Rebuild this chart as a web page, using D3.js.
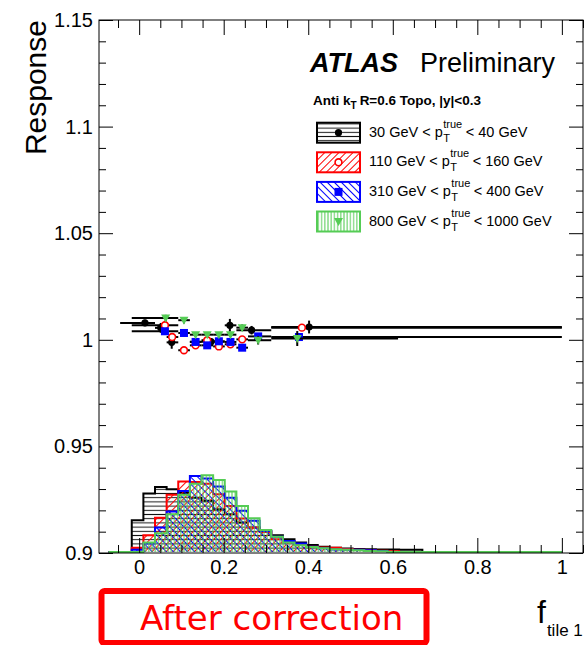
<!DOCTYPE html>
<html>
<head>
<meta charset="utf-8">
<script src="https://cdn.jsdelivr.net/npm/d3@7"></script>
<style>
  body { margin: 0; background: #fff; }
  svg { display: block; font-family: "Liberation Sans", Arial, Helvetica, sans-serif; }
</style>
</head>
<body>
<svg id="chart" width="586" height="645"></svg>
<script>
// ---- histogram of f_tile1 per pT bin (drawn above the 0.9 floor, response-axis units)
const binEdges = [-0.0725,-0.045,-0.0175,0.01,0.0375,0.065,0.0925,0.12,0.1475,0.175,0.2025,0.23,0.2575,0.285,0.3125,0.34,0.3675,0.395,0.4225,0.45,0.4775,0.505,0.5325,0.56,0.5875,0.615,0.6425,0.67,0.6975,0.725,0.7525,0.78,0.8075,0.835,0.8625,0.89,0.9175,0.945,0.9725,1.0];
const histBlack = [0,0,0.0149,0.0274,0.0305,0.0294,0.028,0.0255,0.024,0.020,0.0177,0.0138,0.0115,0.0099,0.0078,0.006,0.0045,0.0033,0.0025,0.002,0.0016,0.0014,0.0013,0.0012,0.0012,0.0011,0.001,0,0,0,0,0,0,0,0,0,0,0,0];
const histRed   = [0,0,0.002,0.0078,0.0161,0.0268,0.0331,0.0328,0.032,0.0271,0.0216,0.0157,0.0115,0.0094,0.006,0.0046,0.0035,0.0025,0.0021,0.002,0.0014,0.001,0.0008,0.0006,0.0004,0,0,0,0,0,0,0,0,0,0,0,0,0,0];
const histBlue  = [0,0,0.001,0.004,0.0115,0.019,0.0286,0.0357,0.0345,0.0307,0.0255,0.0193,0.0146,0.0099,0.0072,0.0052,0.004,0.0025,0.0018,0.0012,0.0011,0.0011,0.0008,0.0005,0,0,0,0,0,0,0,0,0,0,0,0,0,0,0];
const histGreen = [0,0,0,0.0044,0.0088,0.0177,0.0268,0.032,0.036,0.0338,0.0284,0.0216,0.0158,0.0103,0.0072,0.0045,0.0032,0.0024,0.0018,0.0013,0.001,0.0008,0.0005,0.0003,0,0,0,0,0,0,0,0,0,0,0,0,0,0,0];

// ---- response vs f_tile1 (mean x, bin range, response, stat. error)
const blackX    = [0.0137,0.051,0.077,0.17,0.2146,0.266,0.402];
const blackXLo  = [-0.045,0.0375,0.065,0.12,0.2025,0.23,0.3125];
const blackXHi  = [0.0375,0.065,0.0925,0.2025,0.23,0.3125,1.0];
const blackY    = [1.0079,1.0056,0.9988,0.9991,1.0068,1.0045,1.006];
const blackYErr = [0.0015,0.0023,0.003,0.0015,0.003,0.002,0.003];

const redX    = [0.061,0.078,0.106,0.1335,0.161,0.1886,0.216,0.2437,0.385];
const redXLo  = [-0.0175,0.065,0.0925,0.12,0.1475,0.175,0.2025,0.23,0.3125];
const redXHi  = [0.0925,0.0925,0.12,0.1475,0.175,0.2025,0.23,0.2575,1.0];
const redY    = [1.0068,1.0013,0.9951,0.9974,0.9998,0.9969,0.9979,1.0002,1.0057];
const redYErr = [0.0012,0.0015,0.0012,0.001,0.001,0.001,0.001,0.0012,0.0015];

const blueX    = [0.061,0.106,0.1335,0.161,0.1886,0.216,0.2437,0.2815,0.378];
const blueXLo  = [-0.0175,0.0925,0.12,0.1475,0.175,0.2025,0.23,0.2575,0.3125];
const blueXHi  = [0.0925,0.12,0.1475,0.175,0.2025,0.23,0.2575,0.3125,1.0];
const blueY    = [1.004,1.0032,0.999,0.9974,0.9993,0.999,0.9963,1.0016,1.0013];
const blueYErr = [0.0012,0.001,0.001,0.001,0.001,0.001,0.001,0.0012,0.0015];

const greenX    = [0.0627,0.106,0.1335,0.161,0.1886,0.216,0.2437,0.2815,0.374];
const greenXLo  = [-0.0175,0.0925,0.12,0.1475,0.175,0.2025,0.23,0.2575,0.3125];
const greenXHi  = [0.0925,0.12,0.1475,0.175,0.2025,0.23,0.2575,0.3125,0.6125];
const greenY    = [1.0102,1.0092,1.0024,1.0024,1.0024,1.0024,1.0057,0.9998,1.0006];
const greenYErr = [0.0015,0.0015,0.001,0.001,0.001,0.001,0.0015,0.002,0.0035];

// ---- axes and legend text
const xMajorTicks = [0,0.2,0.4,0.6,0.8,1];
const xTickLabels = ["0","0.2","0.4","0.6","0.8","1"];
const xMinorTicks = [-0.05,0.05,0.1,0.15,0.25,0.3,0.35,0.45,0.5,0.55,0.65,0.7,0.75,0.85,0.9,0.95,1.05];
const yMajorTicks = [0.9,0.95,1.0,1.05,1.1,1.15];
const yTickLabels = ["0.9","0.95","1","1.05","1.1","1.15"];
const yMinorTicks = [0.91,0.92,0.93,0.94,0.96,0.97,0.98,0.99,1.01,1.02,1.03,1.04,1.06,1.07,1.08,1.09,1.11,1.12,1.13,1.14];
const ptLow  = [30,110,310,800];
const ptHigh = [40,160,400,1000];

const colBlack = "#000000", colRed = "#ff0000", colBlue = "#0000ff", colGreen = "#55cc55";

const svg = d3.select("#chart");
const L = 99, R = 583, T = 20, B = 553;
const x = d3.scaleLinear().domain([-0.095, 1.05]).range([L, R]);
const y = d3.scaleLinear().domain([0.9, 1.15]).range([B, T]);

const defs = svg.append("defs");
defs.append("clipPath").attr("id", "frameClip")
  .append("rect").attr("x", L).attr("y", T).attr("width", R - L).attr("height", B - T + 1);

function hatch(id, color, angle, spacing, width) {
  const p = defs.append("pattern").attr("id", id)
    .attr("patternUnits", "userSpaceOnUse")
    .attr("width", spacing).attr("height", spacing)
    .attr("patternTransform", `rotate(${angle})`);
  p.append("line").attr("x1", spacing / 2).attr("y1", 0).attr("x2", spacing / 2).attr("y2", spacing)
    .attr("stroke", color).attr("stroke-width", width);
}
hatch("hBlack", "#111", 90, 4.2, 1);
hatch("hRed", colRed, 45, 5, 1);
hatch("hBlue", colBlue, -45, 5, 1);
hatch("hGreen", colGreen, 0, 3.2, 1);

// ---- histograms
const hists = [
  { vals: histBlack, col: colBlack, fill: "url(#hBlack)" },
  { vals: histRed,   col: colRed,   fill: "url(#hRed)" },
  { vals: histBlue,  col: colBlue,  fill: "url(#hBlue)" },
  { vals: histGreen, col: colGreen, fill: "url(#hGreen)" }
];
const gh = svg.append("g").attr("clip-path", "url(#frameClip)");
hists.forEach(h => {
  const pts = [[binEdges[0], 0]];
  h.vals.forEach((v, i) => { pts.push([binEdges[i], v]); pts.push([binEdges[i + 1], v]); });
  pts.push([binEdges[binEdges.length - 1], 0]);
  const line = d3.line().x(d => x(d[0])).y(d => y(0.9 + d[1]) - 1);
  gh.append("path").attr("d", line(pts) + "Z").attr("fill", h.fill).attr("stroke", "none");
  gh.append("path").attr("d", line(pts)).attr("fill", "none")
    .attr("stroke", h.col).attr("stroke-width", 2).attr("stroke-linejoin", "miter");
});

// ---- frame and axes
svg.append("rect").attr("x", L).attr("y", T).attr("width", R - L).attr("height", B - T)
  .attr("fill", "none").attr("stroke", "#000").attr("stroke-width", 1);

function styleAxis(g) {
  g.select(".domain").remove();
  g.selectAll(".tick line").attr("stroke", "#000").attr("stroke-width", 1);
  g.selectAll(".tick text").attr("fill", "#000").style("font-size", "20px")
    .style("font-family", '"Liberation Sans", Arial, sans-serif');
}
const yLab = d3.scaleOrdinal().domain(yMajorTicks).range(yTickLabels);
const xLab = d3.scaleOrdinal().domain(xMajorTicks).range(xTickLabels);

svg.append("g").attr("transform", `translate(${L},0)`)
  .call(d3.axisLeft(y).tickValues(yMajorTicks).tickSize(-14).tickPadding(6).tickFormat(d => yLab(d))).call(styleAxis);
svg.append("g").attr("transform", `translate(${L},0)`)
  .call(d3.axisLeft(y).tickValues(yMinorTicks).tickSize(-7).tickFormat("")).call(styleAxis);
svg.append("g").attr("transform", `translate(${R},0)`)
  .call(d3.axisRight(y).tickValues(yMajorTicks).tickSize(-14).tickFormat("")).call(styleAxis);
svg.append("g").attr("transform", `translate(${R},0)`)
  .call(d3.axisRight(y).tickValues(yMinorTicks).tickSize(-7).tickFormat("")).call(styleAxis);

svg.append("g").attr("transform", `translate(0,${B})`)
  .call(d3.axisBottom(x).tickValues(xMajorTicks).tickSize(-15).tickPadding(7).tickFormat(d => xLab(d))).call(styleAxis);
svg.append("g").attr("transform", `translate(0,${B})`)
  .call(d3.axisBottom(x).tickValues(xMinorTicks).tickSize(-8).tickFormat("")).call(styleAxis);
svg.append("g").attr("transform", `translate(0,${T})`)
  .call(d3.axisTop(x).tickValues(xMajorTicks).tickSize(-15).tickFormat("")).call(styleAxis);
svg.append("g").attr("transform", `translate(0,${T})`)
  .call(d3.axisTop(x).tickValues(xMinorTicks).tickSize(-8).tickFormat("")).call(styleAxis);

// ---- markers
function marker(g, kind, cx, cy) {
  if (kind === "circle") {
    g.append("circle").attr("cx", cx).attr("cy", cy).attr("r", 3.6).attr("fill", colBlack);
  } else if (kind === "open") {
    g.append("circle").attr("cx", cx).attr("cy", cy).attr("r", 3.4)
      .attr("fill", "#fff").attr("stroke", colRed).attr("stroke-width", 1.6);
  } else if (kind === "square") {
    g.append("rect").attr("x", cx - 4).attr("y", cy - 4).attr("width", 8).attr("height", 8).attr("fill", colBlue);
  } else {
    g.append("path").attr("d", `M${cx - 4.5},${cy - 3.5}L${cx + 4.5},${cy - 3.5}L${cx},${cy + 4.5}Z`).attr("fill", colGreen);
  }
}

const series = [
  { xs: blackX, lo: blackXLo, hi: blackXHi, ys: blackY, err: blackYErr, kind: "circle" },
  { xs: redX,   lo: redXLo,   hi: redXHi,   ys: redY,   err: redYErr,   kind: "open" },
  { xs: blueX,  lo: blueXLo,  hi: blueXHi,  ys: blueY,  err: blueYErr,  kind: "square" },
  { xs: greenX, lo: greenXLo, hi: greenXHi, ys: greenY, err: greenYErr, kind: "tri" }
];
const gp = svg.append("g").attr("clip-path", "url(#frameClip)");
series.forEach(s => {
  const g = gp.append("g");
  s.xs.forEach((xv, i) => {
    g.append("line").attr("x1", x(s.lo[i])).attr("x2", x(s.hi[i]))
      .attr("y1", y(s.ys[i])).attr("y2", y(s.ys[i]))
      .attr("stroke", "#000").attr("stroke-width", 2);
    g.append("line").attr("x1", x(xv)).attr("x2", x(xv))
      .attr("y1", y(s.ys[i] - s.err[i])).attr("y2", y(s.ys[i] + s.err[i]))
      .attr("stroke", "#000").attr("stroke-width", 2);
  });
  s.xs.forEach((xv, i) => marker(g, s.kind, x(xv), y(s.ys[i])));
});

// ---- titles and labels
svg.append("text").attr("x", 310).attr("y", 72)
  .style("font-size", "27px").style("font-weight", "bold").style("font-style", "italic").text("ATLAS");
svg.append("text").attr("x", 420).attr("y", 72).style("font-size", "27px").text("Preliminary");

const sel = svg.append("text").attr("x", 313).attr("y", 105).style("font-size", "13.5px").style("font-weight", "bold");
sel.append("tspan").text("Anti k");
sel.append("tspan").attr("dy", 4).style("font-size", "10px").text("T");
sel.append("tspan").attr("dy", -4).attr("dx", 3).text("R=0.6 Topo, |y|<0.3");

// legend
const legFills = ["url(#hBlack)", "url(#hRed)", "url(#hBlue)", "url(#hGreen)"];
const legCols = [colBlack, colRed, colBlue, colGreen];
const legKinds = ["circle", "open", "square", "tri"];
ptLow.forEach((lo, i) => {
  const base = 136.7 + i * 29.6;
  const g = svg.append("g");
  g.append("rect").attr("x", 317).attr("y", base - 14).attr("width", 43).attr("height", 20)
    .attr("fill", "#fff").attr("stroke", "none");
  g.append("rect").attr("x", 317).attr("y", base - 14).attr("width", 43).attr("height", 20)
    .attr("fill", legFills[i]).attr("stroke", legCols[i]).attr("stroke-width", 2);
  marker(g, legKinds[i], 338.5, base - 4);
  const tx = 369;
  const t1 = g.append("text").attr("x", tx).attr("y", base).style("font-size", "14.5px").text(`${lo} GeV < p`);
  const w1 = t1.node().getComputedTextLength();
  const sup = g.append("text").attr("x", tx + w1 + 0.5).attr("y", base - 9).style("font-size", "11px").text("true");
  g.append("text").attr("x", tx + w1 + 0.5).attr("y", base + 5).style("font-size", "11px").text("T");
  const ws = sup.node().getComputedTextLength();
  g.append("text").attr("x", tx + w1 + ws + 4).attr("y", base).style("font-size", "14.5px").text(`< ${ptHigh[i]} GeV`);
});

// axis titles
svg.append("text").attr("transform", "translate(46,20) rotate(-90)")
  .attr("text-anchor", "end").style("font-size", "30px").text("Response");
const xt = svg.append("text").attr("x", 537).attr("y", 623).style("font-size", "32px");
xt.append("tspan").text("f");
xt.append("tspan").attr("dy", 13).attr("dx", 1).style("font-size", "17px").text("tile 1");

// correction-stage label
svg.append("rect").attr("x", 101.5).attr("y", 591).attr("width", 325).attr("height", 52)
  .attr("rx", 3).attr("fill", "none").attr("stroke", "#ff0000").attr("stroke-width", 6);
svg.append("text").attr("x", 140).attr("y", 630)
  .style("font-family", '"DejaVu Sans", Verdana, sans-serif').style("font-size", "34px")
  .attr("fill", "#ff0000").text("After correction");
</script>
</body>
</html>
